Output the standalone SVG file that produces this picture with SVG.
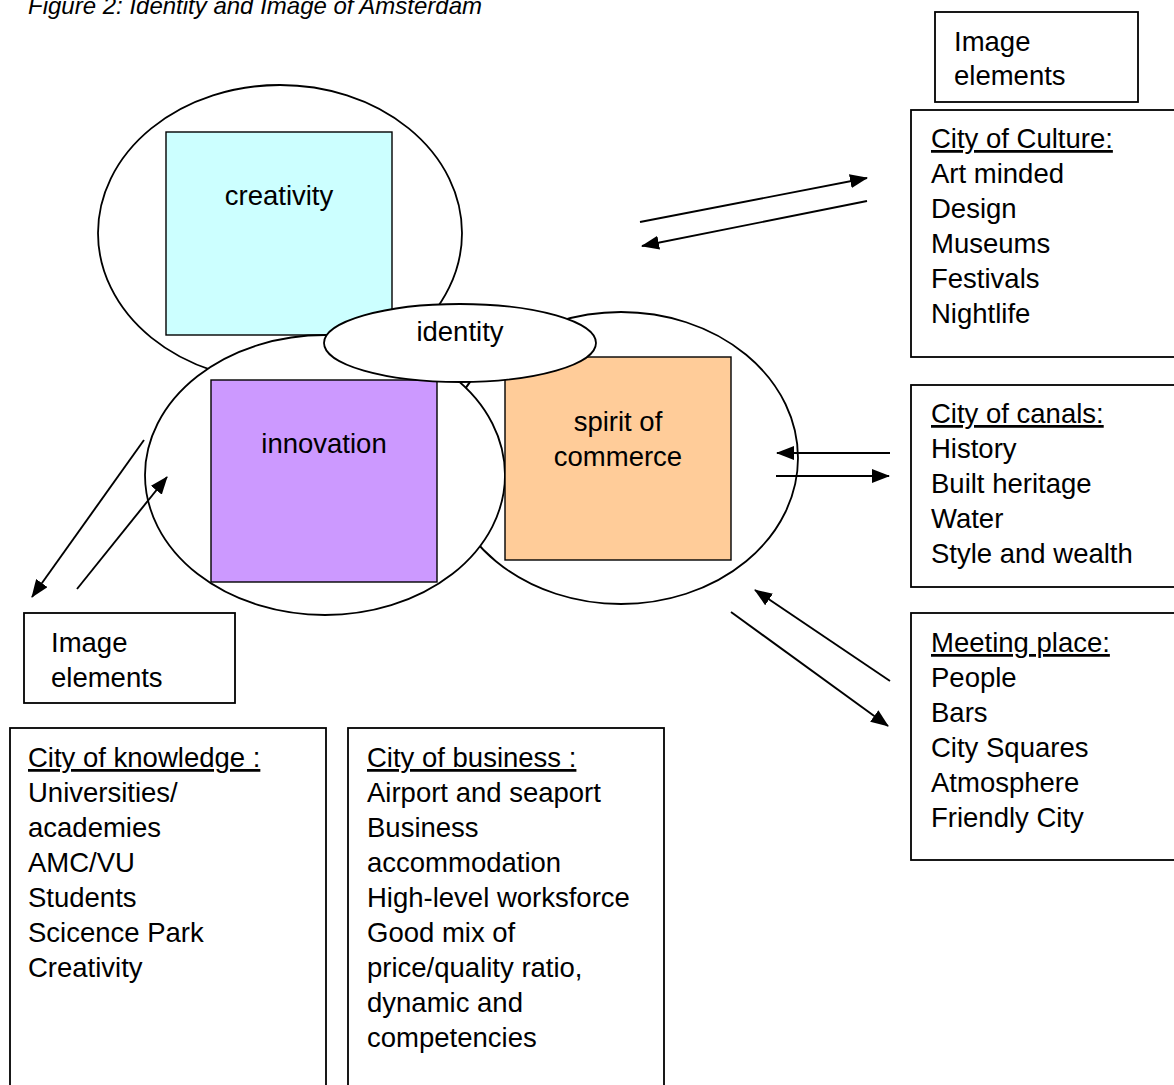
<svg xmlns="http://www.w3.org/2000/svg" width="1174" height="1085" viewBox="0 0 1174 1085">
<defs>
<style>
text{font-family:"Liberation Sans",Arial,sans-serif;font-size:27.5px;fill:#000}
.title{font-size:24px;font-style:italic}
.c{text-anchor:middle}
.box{fill:#fff;stroke:#000;stroke-width:1.8}
.ell{fill:#fff;stroke:#000;stroke-width:1.8}
.sq{stroke:#000;stroke-width:1.4}
.u{text-decoration:underline}
#connectors line{stroke:#000;stroke-width:1.9;marker-end:url(#ah)}
</style>
<marker id="ah" viewBox="0 0 18 14" refX="17" refY="7" markerWidth="18" markerHeight="14" markerUnits="userSpaceOnUse" orient="auto">
<path d="M0,0 L18,7 L0,14 z" fill="#000"/>
</marker>
</defs>
<rect width="1174" height="1085" fill="#fff"/>
<text class="title" x="28" y="14">Figure 2: Identity and Image of Amsterdam</text>

<g id="creativity">
<ellipse class="ell" cx="280" cy="233" rx="182" ry="148"/>
<rect class="sq" x="166" y="132" width="226" height="203" fill="#CCFFFF"/>
<text class="c" x="279" y="205">creativity</text>
</g>
<g id="commerce-ellipse">
<ellipse class="ell" cx="621" cy="458" rx="177" ry="146"/>
</g>
<g id="innovation">
<ellipse class="ell" cx="325" cy="475" rx="180" ry="140"/>
<rect class="sq" x="211" y="380" width="226" height="202" fill="#CC99FF"/>
<text class="c" x="324" y="453">innovation</text>
</g>
<g id="commerce">
<rect class="sq" x="505" y="357" width="226" height="203" fill="#FFCC99"/>
<text class="c" x="618" y="431">spirit of</text>
<text class="c" x="618" y="466">commerce</text>
</g>
<g id="identity">
<ellipse class="ell" cx="460" cy="343" rx="136" ry="39"/>
<text class="c" x="460" y="341">identity</text>
</g>

<g id="image-elements-top">
<rect class="box" x="935" y="12" width="203" height="90"/>
<text x="954" y="51">Image</text>
<text x="954" y="85">elements</text>
</g>
<g id="city-of-culture">
<rect class="box" x="911" y="110" width="270" height="247"/>
<text x="931" y="148" class="u">City of Culture:</text>
<text x="931" y="183">Art minded</text>
<text x="931" y="218">Design</text>
<text x="931" y="253">Museums</text>
<text x="931" y="288">Festivals</text>
<text x="931" y="323">Nightlife</text>
</g>
<g id="city-of-canals">
<rect class="box" x="911" y="385" width="270" height="202"/>
<text x="931" y="423" class="u">City of canals:</text>
<text x="931" y="458">History</text>
<text x="931" y="493">Built heritage</text>
<text x="931" y="528">Water</text>
<text x="931" y="563">Style and wealth</text>
</g>
<g id="meeting-place">
<rect class="box" x="911" y="613" width="270" height="247"/>
<text x="931" y="652" class="u">Meeting place:</text>
<text x="931" y="687">People</text>
<text x="931" y="722">Bars</text>
<text x="931" y="757">City Squares</text>
<text x="931" y="792">Atmosphere</text>
<text x="931" y="827">Friendly City</text>
</g>
<g id="image-elements-left">
<rect class="box" x="24" y="613" width="211" height="90"/>
<text x="51" y="652">Image</text>
<text x="51" y="687">elements</text>
</g>
<g id="city-of-knowledge">
<rect class="box" x="10" y="728" width="316" height="370"/>
<text x="28" y="767" class="u">City of knowledge :</text>
<text x="28" y="802">Universities/</text>
<text x="28" y="837">academies</text>
<text x="28" y="872">AMC/VU</text>
<text x="28" y="907">Students</text>
<text x="28" y="942">Scicence Park</text>
<text x="28" y="977">Creativity</text>
</g>
<g id="city-of-business">
<rect class="box" x="348" y="728" width="316" height="370"/>
<text x="367" y="767" class="u">City of business :</text>
<text x="367" y="802">Airport and seaport</text>
<text x="367" y="837">Business</text>
<text x="367" y="872">accommodation</text>
<text x="367" y="907">High-level worksforce</text>
<text x="367" y="942">Good mix of</text>
<text x="367" y="977">price/quality ratio,</text>
<text x="367" y="1012">dynamic and</text>
<text x="367" y="1047">competencies</text>
</g>

<g id="connectors">
<line x1="640" y1="222" x2="867" y2="178"/>
<line x1="867" y1="201" x2="642" y2="246"/>
<line x1="890" y1="453" x2="777" y2="453"/>
<line x1="776" y1="476" x2="889" y2="476"/>
<line x1="890" y1="681" x2="755" y2="590"/>
<line x1="731" y1="612" x2="888" y2="726"/>
<line x1="144" y1="440" x2="32" y2="597"/>
<line x1="77" y1="589" x2="167" y2="477"/>
</g>
</svg>
